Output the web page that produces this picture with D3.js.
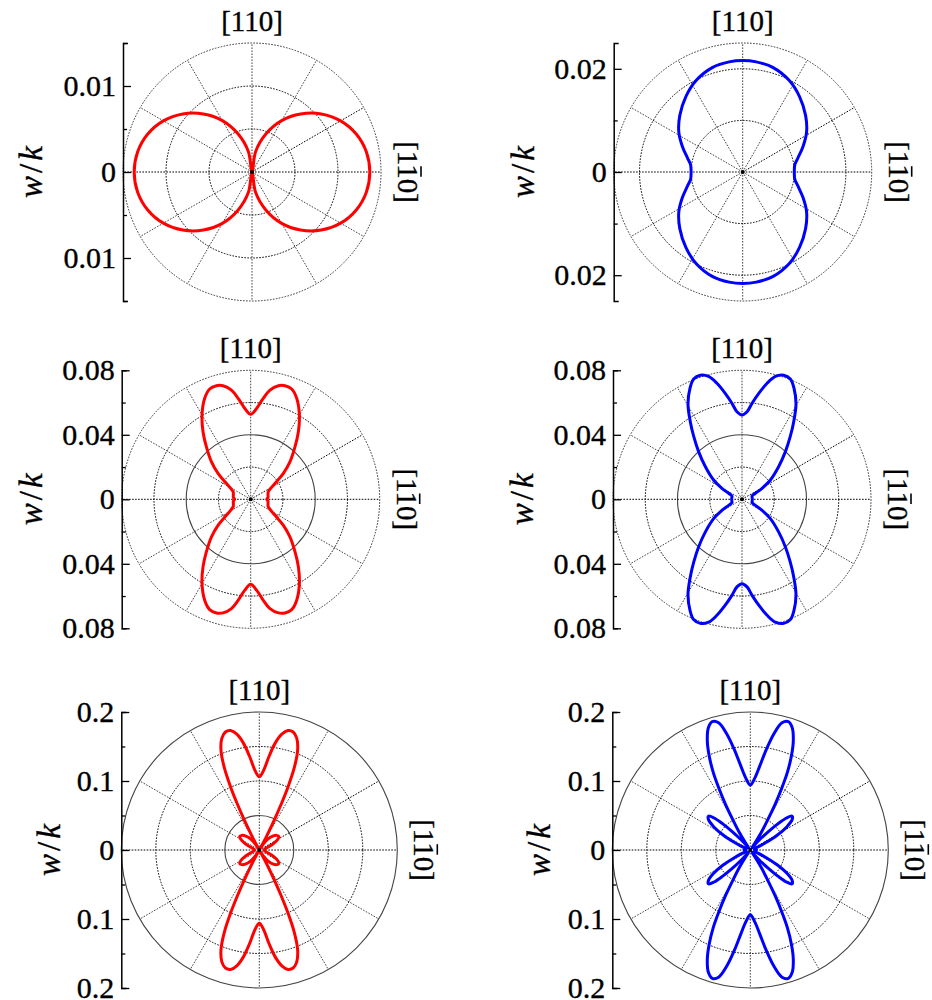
<!DOCTYPE html>
<html>
<head>
<meta charset="utf-8">
<script src="https://cdn.jsdelivr.net/npm/d3@7"></script>
<style>
  body { margin: 0; background: #fff; }
  svg { display: block; }
  text { font-family: "Liberation Serif", "DejaVu Serif", "Times New Roman", serif; fill: #000;
         stroke: #000; stroke-width: 0.35px; }
</style>
</head>
<body>
<svg id="chart" width="932" height="1000"></svg>
<script>
// ---- Data: w/k versus in-plane angle (degrees from [1-10]), first quadrant; the
// ---- other three quadrants follow from the mirror symmetry of the pattern.

// (a) top left, red
const thetaA = [0, 10, 20, 30, 40, 50, 60, 70, 80, 90];
const wkA    = [0.0137, 0.0135, 0.0129, 0.0119, 0.0105, 0.0088, 0.0069, 0.0047, 0.0024, 0];

// (b) top right, blue
const thetaB = [0, 8, 14, 23, 32, 42, 53, 63, 74, 83, 90];
const wkB    = [0.0100, 0.0102, 0.0110, 0.0127, 0.0146, 0.0164, 0.0183, 0.0199, 0.0211, 0.0215, 0.0216];

// (c) middle left, red
const thetaC = [0, 3, 6, 12, 18, 23.5, 33.3, 38.5, 43.8, 49.9, 54.8, 60, 65.5, 69.6, 73.2, 76.3, 80, 82.9, 86.2, 90];
const wkC    = [0.0100, 0.0103, 0.0108, 0.0110, 0.0113, 0.0119, 0.0181, 0.0259, 0.0338, 0.0427, 0.0513, 0.0604, 0.0688, 0.0730, 0.0736, 0.0725, 0.0688, 0.0631, 0.0566, 0.0527];

// (d) middle right, blue
const thetaD = [0, 10, 18.4, 24.2, 28.8, 34.3, 41.7, 47.7, 52.4, 56.4, 60.5, 65, 68.1, 71.4, 74.8, 77.8, 81, 84, 86.7, 90];
const wkD    = [0.0064, 0.0064, 0.0066, 0.0091, 0.0142, 0.0213, 0.0304, 0.0400, 0.0490, 0.0580, 0.0680, 0.0762, 0.0804, 0.0812, 0.0790, 0.0736, 0.0665, 0.0599, 0.0544, 0.0523];

// (e) bottom left, red
const thetaE = [0, 10, 18, 24, 30, 35, 40, 46, 52, 57, 60, 61, 62, 63.5, 64.5, 65.5, 67, 69, 71.5, 74, 76.5, 79, 81.5, 84, 87, 90];
const wkE    = [0.007, 0.008, 0.013, 0.022, 0.031, 0.0345, 0.033, 0.028, 0.020, 0.010, 0.003, 0.004, 0.020, 0.050, 0.075, 0.100, 0.130, 0.155, 0.171, 0.178, 0.178, 0.171, 0.157, 0.137, 0.115, 0.106];

// (f) bottom right, blue
const thetaF = [0, 9, 17, 22, 25.5, 29, 32.5, 36, 39, 41.5, 43.5, 45.5, 48, 51, 54, 56, 58, 60, 61.5, 63, 64.5, 66.5, 68.5, 71, 73.5, 76, 78.5, 81, 83.5, 86.5, 90];
const wkF    = [0.009, 0.007, 0.006, 0.012, 0.025, 0.045, 0.063, 0.075, 0.078, 0.070, 0.055, 0.038, 0.020, 0.008, 0.004, 0.010, 0.030, 0.050, 0.075, 0.100, 0.125, 0.150, 0.170, 0.187, 0.194, 0.190, 0.172, 0.147, 0.123, 0.104, 0.094];

// ---- Radial axis ticks (signed; labels show magnitudes)
const majorA = [-0.01, 0, 0.01],               minorA = [-0.015, -0.005, 0.005, 0.015];
const majorB = [-0.02, 0, 0.02],               minorB = [-0.01, 0.01];
const majorC = [-0.08, -0.04, 0, 0.04, 0.08],  minorC = [-0.06, -0.02, 0.02, 0.06];
const majorE = [-0.2, -0.1, 0, 0.1, 0.2],      minorE = [-0.15, -0.05, 0.05, 0.15];

// ---- Grid rings
const ringsA = [0.005, 0.01, 0.015];
const ringsB = [0.01, 0.02, 0.025];
const ringsC = [0.02, 0.04, 0.06, 0.08];
const ringsE = [0.05, 0.1, 0.15, 0.2];

const topLabel = "[110]";
const sideLabel = ["[1", "1", "0]"];   // middle digit carries an overbar

const RED = "#ff0000", BLUE = "#0000ff";

const panels = [
  { theta: thetaA, wk: wkA, color: RED,  cx: 252,   cy: 172,   R: 129, rmax: 0.015, major: majorA, minor: minorA, rings: ringsA, solidRings: [], solidOuter: false, ylabX: 42 },
  { theta: thetaB, wk: wkB, color: BLUE, cx: 742.7, cy: 172,   R: 129, rmax: 0.025, major: majorB, minor: minorB, rings: ringsB, solidRings: [], solidOuter: false, ylabX: 534 },
  { theta: thetaC, wk: wkC, color: RED,  cx: 250.7, cy: 499.3, R: 129, rmax: 0.08,  major: majorC, minor: minorC, rings: ringsC, solidRings: [0.04], solidOuter: false, ylabX: 42 },
  { theta: thetaD, wk: wkD, color: BLUE, cx: 742,   cy: 499.3, R: 129, rmax: 0.08,  major: majorC, minor: minorC, rings: ringsC, solidRings: [0.04], solidOuter: false, ylabX: 533 },
  { theta: thetaE, wk: wkE, color: RED,  cx: 259.3, cy: 850,   R: 138, rmax: 0.2,   major: majorE, minor: minorE, rings: ringsE, solidRings: [0.05], solidOuter: true, ylabX: 60 },
  { theta: thetaF, wk: wkF, color: BLUE, cx: 750.3, cy: 850,   R: 138, rmax: 0.2,   major: majorE, minor: minorE, rings: ringsE, solidRings: [], solidOuter: true, ylabX: 550 }
];

// Unfold first-quadrant samples into a closed curve over 0..360 degrees.
function unfold(theta, wk) {
  const n = theta.length, pts = [];
  for (let i = 0; i < n; i++) pts.push([theta[i], wk[i]]);
  for (let i = n - 2; i >= 0; i--) pts.push([180 - theta[i], wk[i]]);
  for (let i = 1; i < n; i++) pts.push([180 + theta[i], wk[i]]);
  for (let i = n - 2; i >= 1; i--) pts.push([360 - theta[i], wk[i]]);
  return pts;
}

const svg = d3.select("#chart");
const fmt = d => String(Math.abs(+d.toFixed(4)));
const DOTS = "1.6,1.4";

panels.forEach(p => {
  const g = svg.append("g");
  const r = d3.scaleLinear().domain([0, p.rmax]).range([0, p.R]);
  const plot = g.append("g").attr("transform", `translate(${p.cx},${p.cy})`);

  // spokes every 30 degrees
  d3.range(0, 360, 30).forEach(a => {
    const rad = a * Math.PI / 180;
    const strong = (a % 180 === 0) || a === 30;
    plot.append("line")
      .attr("x1", 0).attr("y1", 0)
      .attr("x2", p.R * Math.cos(rad)).attr("y2", -p.R * Math.sin(rad))
      .attr("stroke", strong ? "#000" : "#444")
      .attr("stroke-width", 1)
      .attr("stroke-dasharray", DOTS);
  });

  // rings
  p.rings.forEach(v => {
    const outer = v === p.rmax;
    const solid = (outer && p.solidOuter) || p.solidRings.includes(v);
    plot.append("circle")
      .attr("r", r(v))
      .attr("fill", "none")
      .attr("stroke", solid ? "#444" : (outer ? "#333" : "#000"))
      .attr("stroke-width", solid ? 1.1 : 1)
      .attr("stroke-dasharray", solid ? null : DOTS);
  });

  // the curve
  const line = d3.lineRadial()
    .angle(d => (90 - d[0]) * Math.PI / 180)
    .radius(d => r(d[1]))
    .curve(d3.curveCatmullRomClosed.alpha(0.5));
  plot.append("path")
    .attr("d", line(unfold(p.theta, p.wk)))
    .attr("fill", "none")
    .attr("stroke", p.color)
    .attr("stroke-width", 3)
    .attr("stroke-linejoin", "round");

  plot.append("circle").attr("r", 2).attr("fill", "#000");

  // vertical w/k axis on the left edge of the disc
  const y = d3.scaleLinear().domain([-p.rmax, p.rmax]).range([p.cy + p.R, p.cy - p.R]);
  const ax = g.append("g").attr("transform", `translate(${p.cx - p.R},0)`);
  ax.call(d3.axisLeft(y).tickValues(p.major).tickSizeInner(-8).tickSizeOuter(-5)
      .tickPadding(7).tickFormat(fmt));
  ax.append("g").call(d3.axisLeft(y).tickValues(p.minor).tickSizeInner(-4).tickSizeOuter(0).tickFormat(""))
    .select(".domain").remove();
  ax.attr("font-family", null).attr("font-size", null);
  ax.selectAll("path.domain").attr("stroke", "#000").attr("stroke-width", 1.5);
  ax.selectAll(".tick line").attr("stroke", "#000").attr("stroke-width", 1.3);
  ax.selectAll(".tick text")
    .style("font-size", "30px")
    .attr("fill", "#000");

  // y label w/k
  const yl = g.append("text")
    .attr("transform", `translate(${p.ylabX},${p.cy}) rotate(-90)`)
    .attr("text-anchor", "middle")
    .style("font-size", "33px");
  yl.append("tspan").style("font-style", "italic").text("w");
  yl.append("tspan").attr("dx", 3).text("/");
  yl.append("tspan").attr("dx", 3).style("font-style", "italic").text("k");

  // [110] on top
  g.append("text")
    .attr("x", p.cx).attr("y", p.cy - p.R - 12)
    .attr("text-anchor", "middle")
    .style("font-size", "29px")
    .text(topLabel);

  // [1 1bar 0] on the right, reading downward
  const sg = g.append("g").attr("transform", `translate(${p.cx + p.R + 17},${p.cy}) rotate(90)`);
  const sl = sg.append("text")
    .attr("text-anchor", "middle")
    .style("font-size", "29px")
    .text(sideLabel.join(""));
  const node = sl.node();
  const i0 = sideLabel[0].length;
  const xa = node.getStartPositionOfChar(i0).x, xb = node.getEndPositionOfChar(i0).x;
  sg.append("line")
    .attr("x1", xa + 2).attr("x2", xb - 2)
    .attr("y1", -23).attr("y2", -23)
    .attr("stroke", "#000").attr("stroke-width", 1.6);
});
</script>
</body>
</html>
